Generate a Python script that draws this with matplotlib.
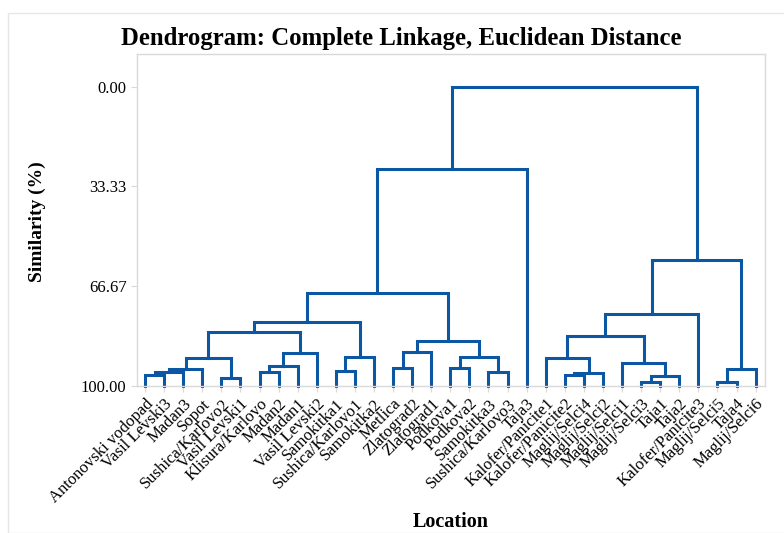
import matplotlib.pyplot as plt
from matplotlib.patches import Rectangle

# Site names, in leaf order (left to right)
leaves = ["Antonovski vodopad", "Vasil Levski3", "Madan3", "Sopot", "Sushica/Karlovo2",
          "Vasil Levski1", "Klisura/Karlovo", "Madan2", "Madan1", "Vasil Levski2",
          "Samokitka1", "Sushica/Karlovo1", "Samokitka2", "Metlica", "Zlatograd2",
          "Zlatograd1", "Podkova1", "Podkova2", "Samokitka3", "Sushica/Karlovo3",
          "Taja3", "Kalofer/Panicite1", "Kalofer/Panicite2", "Maglij/Selci4", "Maglij/Selci2",
          "Maglij/Selci1", "Maglij/Selci3", "Taja1", "Taja2", "Kalofer/Panicite3",
          "Maglij/Selci5", "Taja4", "Maglij/Selci6"]

# Merge table: ids 0-32 are leaves, 33+ are the clusters made in this order
merge_left = [26, 30, 4, 33, 0, 22, 38, 37, 6, 18, 10, 34, 40, 13, 16, 41,
              25, 45, 21, 43, 47, 48, 46, 55, 51, 50, 58, 57, 59, 60, 61, 63]
merge_right = [27, 31, 5, 28, 1, 23, 24, 2, 7, 19, 11, 32, 3, 14, 17, 8,
               36, 35, 39, 12, 42, 9, 15, 53, 49, 54, 52, 29, 56, 44, 20, 62]
merge_sim = [98.8, 98.8, 97.2, 96.6, 96.3, 96.3, 95.7, 95.4, 95.4, 95.4, 94.9, 94.4,
             94.3, 94.1, 94.1, 93.2, 92.2, 90.7, 90.7, 90.2, 90.2, 89.0, 88.7, 85.1,
             83.4, 82.0, 78.7, 75.8, 69.1, 57.9, 27.5, 0.0]

yticks = [0.0, 33.33, 66.67, 100.0]

LINE_COLOR = "#0B57A4"
GRID_GRAY = "#d9d9d9"
plt.rcParams['font.family'] = ['Liberation Serif', 'DejaVu Serif']

W, H = 784, 533
fig = plt.figure(figsize=(W / 100, H / 100), dpi=100)

# light frame around the graph region, like the original export
fig.patches.append(Rectangle((8 / W, 0), 2, 1 - 13 / H, transform=fig.transFigure,
                             fill=False, edgecolor="#e6e6e6", linewidth=1))

ax = fig.add_axes([137 / W, 1 - 386 / H, (765 - 137) / W, (386 - 54) / H])

# position and height of each node
xpos = {i: float(i) for i in range(len(leaves))}
height = {i: 100.0 for i in range(len(leaves))}

for k, (a, b, s) in enumerate(zip(merge_left, merge_right, merge_sim)):
    node = len(leaves) + k
    xa, xb = xpos[a], xpos[b]
    ax.plot([xa, xa, xb, xb], [height[a], s, s, height[b]], color=LINE_COLOR,
            linewidth=2.2, solid_joinstyle='miter', clip_on=False)
    xpos[node] = (xa + xb) / 2
    height[node] = s

ax.set_xlim(-0.42, len(leaves) - 1 + 0.49)
ax.set_ylim(100, -10.9)

ax.set_yticks(yticks)
ax.set_yticklabels([f"{v:.2f}" for v in yticks], fontsize=12)
ax.set_xticks(range(len(leaves)))
ax.set_xticklabels(leaves, rotation=45, ha='right', rotation_mode='anchor', fontsize=12)

ax.tick_params(axis='both', direction='out', length=4, color=GRID_GRAY, labelcolor='black')
ax.tick_params(axis='x', pad=3)
for sp in ax.spines.values():
    sp.set_color(GRID_GRAY)
    sp.set_linewidth(1)

fig.text(0.512, 1 - 45 / H, "Dendrogram: Complete Linkage, Euclidean Distance",
         ha='center', va='baseline', fontsize=17.8, fontweight='bold')
fig.text(37 / W, 1 - 222 / H, "Similarity (%)", rotation=90, ha='center', va='center',
         fontsize=14, fontweight='bold')
fig.text(451 / W, 1 - 522 / H, "Location", ha='center', va='center',
         fontsize=14.5, fontweight='bold')

fig.savefig("out.png", dpi=100)
